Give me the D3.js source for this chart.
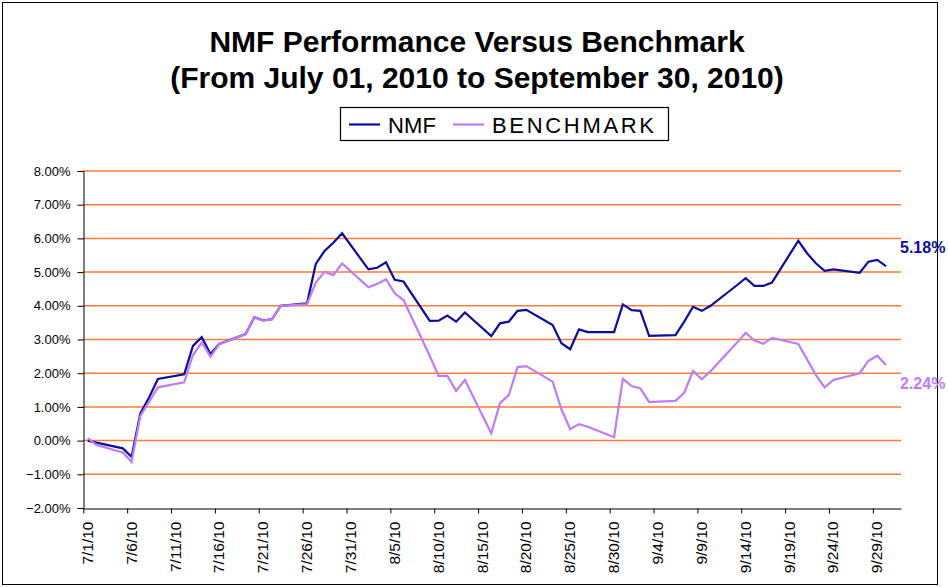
<!DOCTYPE html>
<html>
<head>
<meta charset="utf-8">
<script src="https://cdn.jsdelivr.net/npm/d3@7"></script>
<style>
  body { margin: 0; background: #fff; }
  svg { font-family: "Liberation Sans", Arial, sans-serif; }
</style>
</head>
<body>
<svg id="chart" width="948" height="587"></svg>
<script>
// trading days shown on the chart
const dates = [
  "7/1/10", "7/2/10", "7/5/10", "7/6/10", "7/7/10", "7/8/10", "7/9/10",
  "7/12/10", "7/13/10", "7/14/10", "7/15/10", "7/16/10",
  "7/19/10", "7/20/10", "7/21/10", "7/22/10", "7/23/10",
  "7/26/10", "7/27/10", "7/28/10", "7/29/10", "7/30/10",
  "8/2/10", "8/3/10", "8/4/10", "8/5/10", "8/6/10",
  "8/9/10", "8/10/10", "8/11/10", "8/12/10", "8/13/10",
  "8/16/10", "8/17/10", "8/18/10", "8/19/10", "8/20/10",
  "8/23/10", "8/24/10", "8/25/10", "8/26/10", "8/27/10",
  "8/30/10", "8/31/10", "9/1/10", "9/2/10", "9/3/10",
  "9/6/10", "9/7/10", "9/8/10", "9/9/10", "9/10/10",
  "9/13/10", "9/14/10", "9/15/10", "9/16/10", "9/17/10",
  "9/20/10", "9/21/10", "9/22/10", "9/23/10", "9/24/10",
  "9/27/10", "9/28/10", "9/29/10", "9/30/10"
];

// cumulative return, percent
const nmf = [
  0.00, -0.06, -0.23, -0.48, 0.81, 1.28, 1.83,
  1.97, 2.81, 3.07, 2.57, 2.87,
  3.16, 3.66, 3.57, 3.60, 4.00,
  4.07, 5.24, 5.63, 5.87, 6.15,
  5.08, 5.13, 5.29, 4.77, 4.72,
  3.55, 3.56, 3.71, 3.53, 3.80,
  3.10, 3.48, 3.53, 3.85, 3.88,
  3.43, 2.89, 2.71, 3.30, 3.22,
  3.22, 4.04, 3.87, 3.85, 3.11,
  3.13, 3.53, 3.97, 3.85, 4.00,
  4.61, 4.82, 4.59, 4.59, 4.69,
  5.93, 5.56, 5.26, 5.04, 5.08,
  4.98, 5.31, 5.36, 5.18
];

const benchmark = [
  0.07, -0.13, -0.35, -0.63, 0.73, 1.15, 1.58,
  1.73, 2.54, 2.91, 2.49, 2.86,
  3.16, 3.66, 3.56, 3.60, 4.00,
  4.05, 4.69, 5.01, 4.91, 5.26,
  4.55, 4.65, 4.79, 4.37, 4.17,
  2.51, 1.92, 1.92, 1.48, 1.80,
  0.22, 1.11, 1.35, 2.18, 2.21,
  1.75, 0.93, 0.34, 0.49, 0.41,
  0.10, 1.83, 1.62, 1.55, 1.14,
  1.18, 1.42, 2.07, 1.82, 2.06,
  2.90, 3.20, 2.97, 2.87, 3.05,
  2.87, 2.41, 1.95, 1.58, 1.80,
  2.00, 2.37, 2.52, 2.24
];

const yTicks = [-2, -1, 0, 1, 2, 3, 4, 5, 6, 7, 8];
const titleLines = [
  "NMF Performance Versus Benchmark",
  "(From July 01, 2010 to September 30, 2010)"
];

const nmfColor = "#0c0ca0";
const benchColor = "#bf7cf4";
const gridColor = "#fb7c36";

const parse = d3.timeParse("%m/%d/%y");
const fmt = d3.timeFormat("%-m/%-d/%y");
const days = dates.map(parse);

const svg = d3.select("#chart");

// outer frame
svg.append("rect")
  .attr("x", 2.5).attr("y", 2.5)
  .attr("width", 935).attr("height", 582)
  .attr("fill", "none").attr("stroke", "#000").attr("stroke-width", 1);

const start = parse("7/1/10");
const x = d3.scaleTime()
  .domain([start, d3.timeHour.offset(parse("10/2/10"), 5)])
  .range([83.3, 901]);
const y = d3.scaleLinear().domain([-2, 8]).range([508, 171]);

// each point sits in the middle of its day
const px = (d) => x(d3.timeHour.offset(d, 12));

// gridlines
svg.append("g")
  .selectAll("line")
  .data(yTicks.filter((v) => v > -2))
  .enter()
  .append("line")
  .attr("x1", 83).attr("x2", 901)
  .attr("y1", (v) => y(v)).attr("y2", (v) => y(v))
  .attr("stroke", gridColor)
  .attr("stroke-width", 1.5);

// y axis
const yAxis = d3.axisLeft(y)
  .tickValues(yTicks)
  .tickSize(6)
  .tickPadding(7)
  .tickFormat((v) => d3.format(".2f")(v) + "%");

svg.append("g")
  .attr("transform", "translate(83.5,0)")
  .call(yAxis)
  .call((g) => g.selectAll("text").attr("font-size", 13).attr("fill", "#000").attr("font-family", null))
  .call((g) => g.selectAll("line,path").attr("stroke", "#000"));

// x axis, a tick every five days
const xTicks = d3.range(0, 91, 5).map((i) => d3.timeDay.offset(start, i));
const xAxis = d3.axisBottom(x)
  .tickValues(xTicks)
  .tickSize(5)
  .tickSizeOuter(0)
  .tickFormat(fmt);

svg.append("g")
  .attr("transform", "translate(0,508.5)")
  .call(xAxis)
  .call((g) => g.selectAll("line,path").attr("stroke", "#000"))
  .call((g) => g.selectAll("text")
    .attr("font-size", 15.5)
    .attr("font-family", null)
    .attr("fill", "#000")
    .attr("text-anchor", "end")
    .attr("transform", "rotate(-90)")
    .attr("x", -13)
    .attr("y", 0)
    .attr("dy", "0.58em"));

// series
const line = d3.line()
  .x((d) => px(d.date))
  .y((d) => y(d.value));

const series = [
  { name: "NMF", color: nmfColor, values: nmf },
  { name: "BENCHMARK", color: benchColor, values: benchmark }
];

series.forEach((s) => {
  svg.append("path")
    .datum(s.values.map((v, i) => ({ date: days[i], value: v })))
    .attr("d", line)
    .attr("fill", "none")
    .attr("stroke", s.color)
    .attr("stroke-width", 2.2)
    .attr("stroke-linejoin", "miter");
});

// end value labels
const last = dates.length - 1;
svg.append("text")
  .attr("x", 900).attr("y", y(nmf[last]) - 13)
  .attr("font-size", 16).attr("font-weight", "bold")
  .attr("fill", nmfColor)
  .text(d3.format(".2f")(nmf[last]) + "%");

svg.append("text")
  .attr("x", 900).attr("y", y(benchmark[last]) + 24)
  .attr("font-size", 16).attr("font-weight", "bold")
  .attr("fill", benchColor)
  .text(d3.format(".2f")(benchmark[last]) + "%");

// title
svg.append("g")
  .selectAll("text")
  .data(titleLines)
  .enter()
  .append("text")
  .attr("x", 477)
  .attr("y", (d, i) => 52 + i * 36)
  .attr("text-anchor", "middle")
  .attr("font-size", 30)
  .attr("font-weight", "bold")
  .text((d) => d);

// legend
const legend = svg.append("g");
legend.append("rect")
  .attr("x", 340.5).attr("y", 107.5)
  .attr("width", 328).attr("height", 33)
  .attr("fill", "#fff").attr("stroke", "#000").attr("stroke-width", 1.2);

const legendItems = [
  { name: "NMF", color: nmfColor, x: 349, len: 48 },
  { name: "BENCHMARK", color: benchColor, x: 453, len: 162 }
];

legendItems.forEach((d) => {
  legend.append("line")
    .attr("x1", d.x).attr("x2", d.x + 31)
    .attr("y1", 124.5).attr("y2", 124.5)
    .attr("stroke", d.color).attr("stroke-width", 2.2);
  legend.append("text")
    .attr("x", d.x + 39).attr("y", 133)
    .attr("font-size", 22)
    .attr("textLength", d.len)
    .attr("lengthAdjust", "spacing")
    .text(d.name);
});
</script>
</body>
</html>
